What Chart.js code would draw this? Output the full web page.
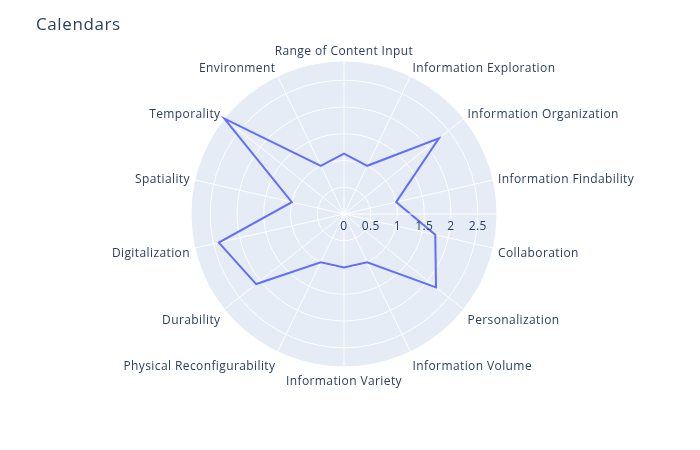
<!DOCTYPE html>
<html>
<head>
<meta charset="utf-8">
<script src="https://cdn.jsdelivr.net/npm/chart.js@4"></script>
<style>
html,body{margin:0;padding:0;background:#fff;}
#wrap{width:700px;height:450px;position:relative;}
</style>
</head>
<body>
<div id="wrap"><canvas id="c"></canvas></div>
<script>
const titleText = 'Calendars';
const categories = [
  'Range of Content Input', 'Information Exploration', 'Information Organization',
  'Information Findability', 'Collaboration', 'Personalization', 'Information Volume',
  'Information Variety', 'Physical Reconfigurability', 'Durability', 'Digitalization',
  'Spatiality', 'Temporality', 'Environment'
];
const values = [1.13, 1, 2.27, 1, 1.75, 2.2, 1, 1, 1, 2.1, 2.4, 1, 2.86, 1];
const radialTicks = [0, 0.5, 1, 1.5, 2, 2.5];
const radialMax = 2.86;

const TEXT_COLOR = '#2a3f5f';
const FONT = '"Open Sans", verdana, arial, sans-serif';

function setSpacing(ctx, v) { if ('letterSpacing' in ctx) ctx.letterSpacing = v; }

const polarDecor = {
  id: 'polarDecor',
  beforeDraw(chart) {
    const s = chart.scales.r, ctx = chart.ctx;
    ctx.save();
    ctx.fillStyle = '#fff';
    ctx.fillRect(0, 0, chart.width, chart.height);
    ctx.beginPath();
    ctx.arc(s.xCenter, s.yCenter, s.drawingArea, 0, Math.PI * 2);
    ctx.fillStyle = '#E5ECF6';
    ctx.fill();
    // title
    ctx.font = '17px ' + FONT;
    setSpacing(ctx, '0.6px');
    ctx.fillStyle = TEXT_COLOR;
    ctx.textAlign = 'left';
    ctx.textBaseline = 'alphabetic';
    ctx.fillText(titleText, 36, 30);
    // angular labels
    ctx.font = '12px ' + FONT;
    setSpacing(ctx, '0.4px');
    const n = categories.length;
    categories.forEach((lab, i) => {
      const p = s.getPointPosition(i, s.drawingArea);
      const theta = i * 2 * Math.PI / n;
      const rad = Math.PI / 2 - theta;
      const c = Math.cos(rad), sn = Math.sin(rad);
      const x = p.x + c * 5;
      const y = p.y + 1 - sn * (5 + 12 * (sn > 0 ? 0.2 : 1)) + Math.abs(c) * 12 * 0.35;
      ctx.textAlign = Math.abs(c) < 0.1 ? 'center' : (c > 0 ? 'left' : 'right');
      ctx.fillText(lab, x, y);
    });
    ctx.restore();
  },
  afterDatasetsDraw(chart) {
    const s = chart.scales.r, ctx = chart.ctx;
    ctx.save();
    ctx.strokeStyle = '#fff';
    ctx.lineWidth = 1;
    ctx.beginPath();
    ctx.moveTo(s.xCenter, s.yCenter);
    ctx.lineTo(s.xCenter + s.drawingArea, s.yCenter);
    ctx.stroke();
    ctx.font = '12px ' + FONT;
    setSpacing(ctx, '0.4px');
    ctx.fillStyle = TEXT_COLOR;
    ctx.textAlign = 'center';
    ctx.textBaseline = 'alphabetic';
    radialTicks.forEach(v => {
      const x = s.xCenter + s.getDistanceFromCenterForValue(v);
      ctx.fillText(String(v), x, s.yCenter + 16);
    });
    ctx.restore();
  }
};

new Chart(document.getElementById('c'), {
  type: 'radar',
  data: {
    labels: categories,
    datasets: [{
      data: values,
      borderColor: '#636efa',
      borderWidth: 2,
      fill: false,
      pointRadius: 0,
      pointHoverRadius: 0,
      tension: 0
    }]
  },
  options: {
    responsive: true,
    maintainAspectRatio: false,
    animation: false,
    layout: { padding: { left: 191, right: 203, top: 61, bottom: 83 } },
    plugins: { legend: { display: false }, tooltip: { enabled: false }, title: { display: false } },
    scales: {
      r: {
        min: 0,
        max: radialMax,
        startAngle: 0,
        ticks: { display: false, stepSize: 0.5 },
        grid: { circular: true, color: '#ffffff', lineWidth: 1 },
        angleLines: { display: true, color: '#ffffff', lineWidth: 1 },
        pointLabels: { display: false }
      }
    }
  },
  plugins: [polarDecor]
});
</script>
</body>
</html>
